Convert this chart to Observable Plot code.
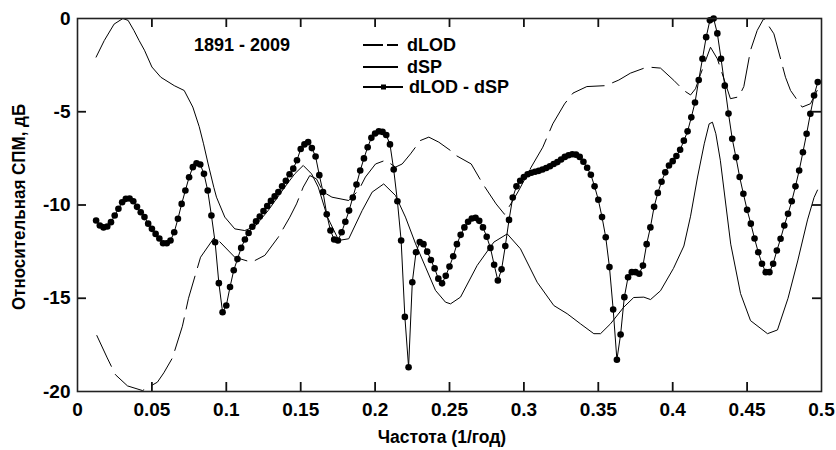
<!DOCTYPE html>
<html><head><meta charset="utf-8">
<script src="https://cdn.jsdelivr.net/npm/d3@7"></script>
<script src="https://cdn.jsdelivr.net/npm/@observablehq/plot@0.6"></script>
<style>body{margin:0;background:#fff}#chart{width:836px;height:450px}</style>
</head><body><div id="chart"></div>
<script>
// dLOD - dSP (dotted series)
const diffFreq = [0.0125,0.015,0.0175,0.02,0.0225,0.025,0.0275,0.03,0.0325,0.035,0.0375,0.04,0.0425,0.045,0.0475,0.05,0.0525,0.055,0.0575,0.06,0.0625,0.065,0.0675,0.07,0.0725,0.075,0.0775,0.08,0.0825,0.085,0.0875,0.09,0.0925,0.095,0.0975,0.1,0.1025,0.105,0.1075,0.11,0.1125,0.115,0.1175,0.12,0.1225,0.125,0.1275,0.13,0.1325,0.135,0.1375,0.14,0.1425,0.145,0.1475,0.15,0.1525,0.155,0.1575,0.16,0.1625,0.165,0.1675,0.17,0.1725,0.175,0.1775,0.18,0.1825,0.185,0.1875,0.19,0.1925,0.195,0.1975,0.2,0.2025,0.205,0.2075,0.21,0.2125,0.215,0.2175,0.22,0.2225,0.225,0.2275,0.23,0.2325,0.235,0.2375,0.24,0.2425,0.245,0.2475,0.25,0.2525,0.255,0.2575,0.26,0.2625,0.265,0.2675,0.27,0.2725,0.275,0.2775,0.28,0.2825,0.285,0.2875,0.29,0.2925,0.295,0.2975,0.3,0.3025,0.305,0.3075,0.31,0.3125,0.315,0.3175,0.32,0.3225,0.325,0.3275,0.33,0.3325,0.335,0.3375,0.34,0.3425,0.345,0.3475,0.35,0.3525,0.355,0.3575,0.36,0.3625,0.365,0.3675,0.37,0.3725,0.375,0.3775,0.38,0.3825,0.385,0.3875,0.39,0.3925,0.395,0.3975,0.4,0.4025,0.405,0.4075,0.41,0.4125,0.415,0.4175,0.42,0.4225,0.425,0.4275,0.43,0.4325,0.435,0.4375,0.44,0.4425,0.445,0.4475,0.45,0.4525,0.455,0.4575,0.46,0.4625,0.465,0.4675,0.47,0.4725,0.475,0.4775,0.48,0.4825,0.485,0.4875,0.49,0.4925,0.495,0.4975];
const diffDb = [-10.83,-11.1,-11.2,-11.15,-10.92,-10.56,-10.2,-9.85,-9.67,-9.65,-9.8,-10.1,-10.39,-10.65,-11.0,-11.28,-11.55,-11.8,-12.05,-12.05,-11.9,-11.46,-10.74,-9.94,-9.22,-8.51,-7.97,-7.76,-7.83,-8.33,-9.22,-10.56,-12.0,-14.19,-15.75,-15.39,-14.4,-13.5,-12.9,-12.3,-11.85,-11.5,-11.17,-10.88,-10.62,-10.32,-10.05,-9.78,-9.54,-9.3,-9.0,-8.7,-8.35,-8.05,-7.6,-7.0,-6.75,-6.63,-6.95,-7.4,-8.4,-9.3,-10.5,-11.37,-11.85,-11.9,-11.46,-10.9,-10.3,-9.6,-8.9,-8.15,-7.5,-6.9,-6.4,-6.17,-6.05,-6.08,-6.25,-6.75,-8.1,-9.8,-11.9,-16.0,-18.7,-14.14,-12.53,-11.99,-12.1,-12.5,-12.95,-13.4,-13.95,-14.2,-13.8,-13.3,-12.75,-12.1,-11.6,-11.2,-10.9,-10.72,-10.69,-10.85,-11.2,-11.7,-12.3,-13.2,-14.05,-13.45,-12.2,-10.8,-9.6,-9.0,-8.7,-8.5,-8.35,-8.27,-8.22,-8.17,-8.1,-8.02,-7.92,-7.8,-7.7,-7.56,-7.42,-7.33,-7.28,-7.3,-7.42,-7.68,-8.0,-8.38,-9.0,-9.72,-10.65,-11.73,-13.33,-15.6,-18.3,-16.94,-14.94,-13.87,-13.6,-13.6,-13.69,-13.25,-12.1,-11.2,-10.1,-9.35,-8.75,-8.25,-7.88,-7.65,-7.37,-7.04,-6.55,-6.05,-5.3,-4.5,-3.3,-2.16,-1.0,-0.1,0.0,-0.8,-2.16,-3.6,-5.1,-6.45,-7.44,-8.5,-9.4,-10.26,-11.0,-11.8,-12.53,-13.15,-13.6,-13.6,-13.15,-12.44,-11.81,-11.1,-10.47,-9.8,-9.0,-8.15,-7.17,-6.18,-5.11,-4.13,-3.41];

// dSP (solid line)
const spFreq = [0.0125,0.018,0.0246,0.0305,0.034,0.0379,0.0414,0.045,0.05,0.056,0.065,0.0717,0.0775,0.0818,0.0847,0.0878,0.0916,0.0934,0.099,0.1057,0.1124,0.1192,0.1281,0.1393,0.146,0.1517,0.1573,0.1618,0.168,0.1756,0.1823,0.1913,0.198,0.2058,0.2137,0.2204,0.2272,0.2339,0.2406,0.2473,0.2507,0.2574,0.2686,0.2798,0.2888,0.2977,0.3089,0.3201,0.3291,0.338,0.347,0.3515,0.3582,0.3671,0.3738,0.3806,0.3851,0.3918,0.4005,0.4075,0.412,0.4167,0.4212,0.4245,0.4267,0.429,0.432,0.439,0.4456,0.4523,0.4637,0.4704,0.4775,0.484,0.4906,0.495,0.4973];
const spDb = [-2.07,-1.18,-0.3,0,-0.1,-0.64,-1.18,-1.7,-2.6,-3.15,-3.6,-3.86,-4.75,-5.8,-6.72,-7.8,-9.05,-9.58,-10.65,-11.28,-11.37,-11.15,-10.3,-9.04,-8.33,-7.88,-8.33,-9.04,-10.65,-11.9,-11.81,-10.3,-9.31,-8.87,-9.49,-10.65,-12.08,-13.33,-14.58,-15.21,-15.3,-14.94,-13.24,-11.99,-11.55,-12.35,-14.14,-15.39,-15.83,-16.37,-16.9,-16.9,-16.37,-15.48,-14.96,-14.94,-15.07,-14.6,-13.4,-12.2,-10.6,-8.5,-6.72,-5.65,-5.56,-6.18,-7.6,-12.1,-14.75,-16.2,-16.9,-16.7,-15.0,-13.0,-10.8,-9.6,-9.2];

// dLOD (dashed line)
const lodFreq = [0.013,0.02,0.0255,0.0336,0.0437,0.0537,0.058,0.0638,0.0705,0.0746,0.0827,0.0923,0.1057,0.117,0.1259,0.1349,0.1427,0.1472,0.1517,0.1561,0.1606,0.1651,0.171,0.1823,0.189,0.1935,0.2003,0.207,0.2137,0.2182,0.2238,0.2305,0.2361,0.2428,0.2507,0.2545,0.2646,0.2724,0.2813,0.287,0.296,0.3049,0.3127,0.3194,0.3273,0.333,0.3423,0.355,0.3638,0.3716,0.3829,0.3918,0.4008,0.4075,0.412,0.4153,0.4187,0.4254,0.43,0.4388,0.4444,0.4478,0.4523,0.4568,0.4612,0.468,0.4758,0.4792,0.487,0.4926,0.4971];
const lodDb = [-17.0,-18.2,-19.1,-19.7,-19.95,-19.5,-19.0,-18.2,-16.5,-15.0,-12.8,-11.7,-12.8,-13.07,-12.7,-11.73,-10.65,-9.94,-9.04,-8.42,-8.6,-9.3,-9.58,-9.76,-9.2,-8.5,-7.8,-7.6,-7.97,-7.8,-7.26,-6.54,-6.36,-6.63,-7.08,-7.35,-7.8,-8.87,-9.94,-10.5,-9.3,-7.97,-6.9,-5.65,-4.58,-4.0,-3.65,-3.6,-3.3,-2.93,-2.6,-2.66,-3.32,-3.86,-4.1,-3.77,-3.0,-1.54,-2.16,-4.3,-4.2,-3.65,-1.7,-0.64,0,-0.82,-3.15,-3.86,-4.75,-4.57,-3.86];

const xTicks = [0,0.05,0.1,0.15,0.2,0.25,0.3,0.35,0.4,0.45,0.5];
const xTickLabels = ["0","0.05","0.1","0.15","0.2","0.25","0.3","0.35","0.4","0.45","0.5"];
const yTicks = [0,-5,-10,-15,-20];
const yTickLabels = ["0","-5","-10","-15","-20"];
const innerX = [0.05,0.1,0.15,0.2,0.25,0.3,0.35,0.4,0.45];
const innerY = [-5,-10,-15];
const seriesNames = ["dLOD","dSP","dLOD - dSP"];
const periodLabel = "1891 - 2009";
const xTitle = "Частота (1/год)";
const yTitle = "Относительная СПМ, дБ";

const W = 836, H = 450, mL = 77, mR = 15, mT = 18, mB = 59;
const pW = W - mL - mR, pH = H - mT - mB, tl = 9;
const font = "'Liberation Sans', Arial, Helvetica, sans-serif";
const rows = (xs, ys) => xs.map((x, i) => ({x, y: ys[i]}));
const lod = rows(lodFreq, lodDb), sp = rows(spFreq, spDb), diff = rows(diffFreq, diffDb);

const svg = Plot.plot({
  width: W, height: H,
  marginLeft: mL, marginRight: mR, marginTop: mT, marginBottom: mB,
  style: {fontFamily: font, background: "#fff", color: "#000"},
  x: {domain: [0, 0.5]},
  y: {domain: [-20, 0]},
  marks: [
    Plot.line(lod, {x: "x", y: "y", stroke: "#000", strokeWidth: 1, strokeDasharray: "34,9", clip: true}),
    Plot.line(sp, {x: "x", y: "y", stroke: "#000", strokeWidth: 1, clip: true}),
    Plot.line(diff, {x: "x", y: "y", stroke: "#000", strokeWidth: 1}),
    Plot.dot(diff, {x: "x", y: "y", r: 3.3, fill: "#000", stroke: "none"}),
    Plot.ruleX(innerX, {x: d => d, insetTop: pH - tl, stroke: "#111", strokeWidth: 1.8}),
    Plot.ruleX(innerX, {x: d => d, insetBottom: pH - tl, stroke: "#111", strokeWidth: 1.8}),
    Plot.ruleY(innerY, {y: d => d, insetRight: pW - tl, stroke: "#111", strokeWidth: 1.8}),
    Plot.ruleY(innerY, {y: d => d, insetLeft: pW - tl, stroke: "#111", strokeWidth: 1.8}),
    Plot.axisX(xTicks, {tickSize: 0, tickPadding: 11, tickFormat: d => xTickLabels[xTicks.indexOf(d)], fontSize: 19, fontWeight: "bold", label: null}),
    Plot.axisY(yTicks, {tickSize: 0, tickPadding: 7, tickFormat: d => yTickLabels[yTicks.indexOf(d)], fontSize: 19, fontWeight: "bold", label: null}),
    Plot.frame({stroke: "#222", strokeWidth: 1.6})
  ]
});
document.getElementById("chart").appendChild(svg);

const s = d3.select(svg);
const g = s.append("g").attr("font-family", font).attr("font-weight", "bold").attr("fill", "#000").attr("text-anchor", "start");
g.append("text").attr("x", 242).attr("y", 45).attr("dy", "0.35em").attr("text-anchor", "middle").attr("font-size", 18).text(periodLabel);
const rowsY = [45, 67, 87];
g.append("line").attr("x1", 363).attr("x2", 398).attr("y1", rowsY[0]).attr("y2", rowsY[0]).attr("stroke", "#000").attr("stroke-width", 2.2).attr("stroke-dasharray", "20,4");
g.append("line").attr("x1", 363).attr("x2", 398).attr("y1", rowsY[1]).attr("y2", rowsY[1]).attr("stroke", "#000").attr("stroke-width", 2.2);
g.append("line").attr("x1", 363).attr("x2", 403).attr("y1", rowsY[2]).attr("y2", rowsY[2]).attr("stroke", "#000").attr("stroke-width", 2.2);
g.append("rect").attr("x", 381).attr("y", rowsY[2] - 2.5).attr("width", 5).attr("height", 5).attr("fill", "#000");
seriesNames.forEach((n, i) => {
  g.append("text").attr("x", i === 2 ? 409 : 407).attr("y", rowsY[i]).attr("dy", "0.35em").attr("text-anchor", "start").attr("font-size", 18).text(n);
});
g.append("text").attr("x", 442).attr("y", 437).attr("dy", "0.35em").attr("text-anchor", "middle").attr("font-size", 17.5).text(xTitle);
g.append("text").attr("transform", "translate(18,207) rotate(-90) scale(1,1.12)").attr("dy", "0.35em").attr("text-anchor", "middle").attr("font-size", 17).text(yTitle);
</script>
</body></html>
